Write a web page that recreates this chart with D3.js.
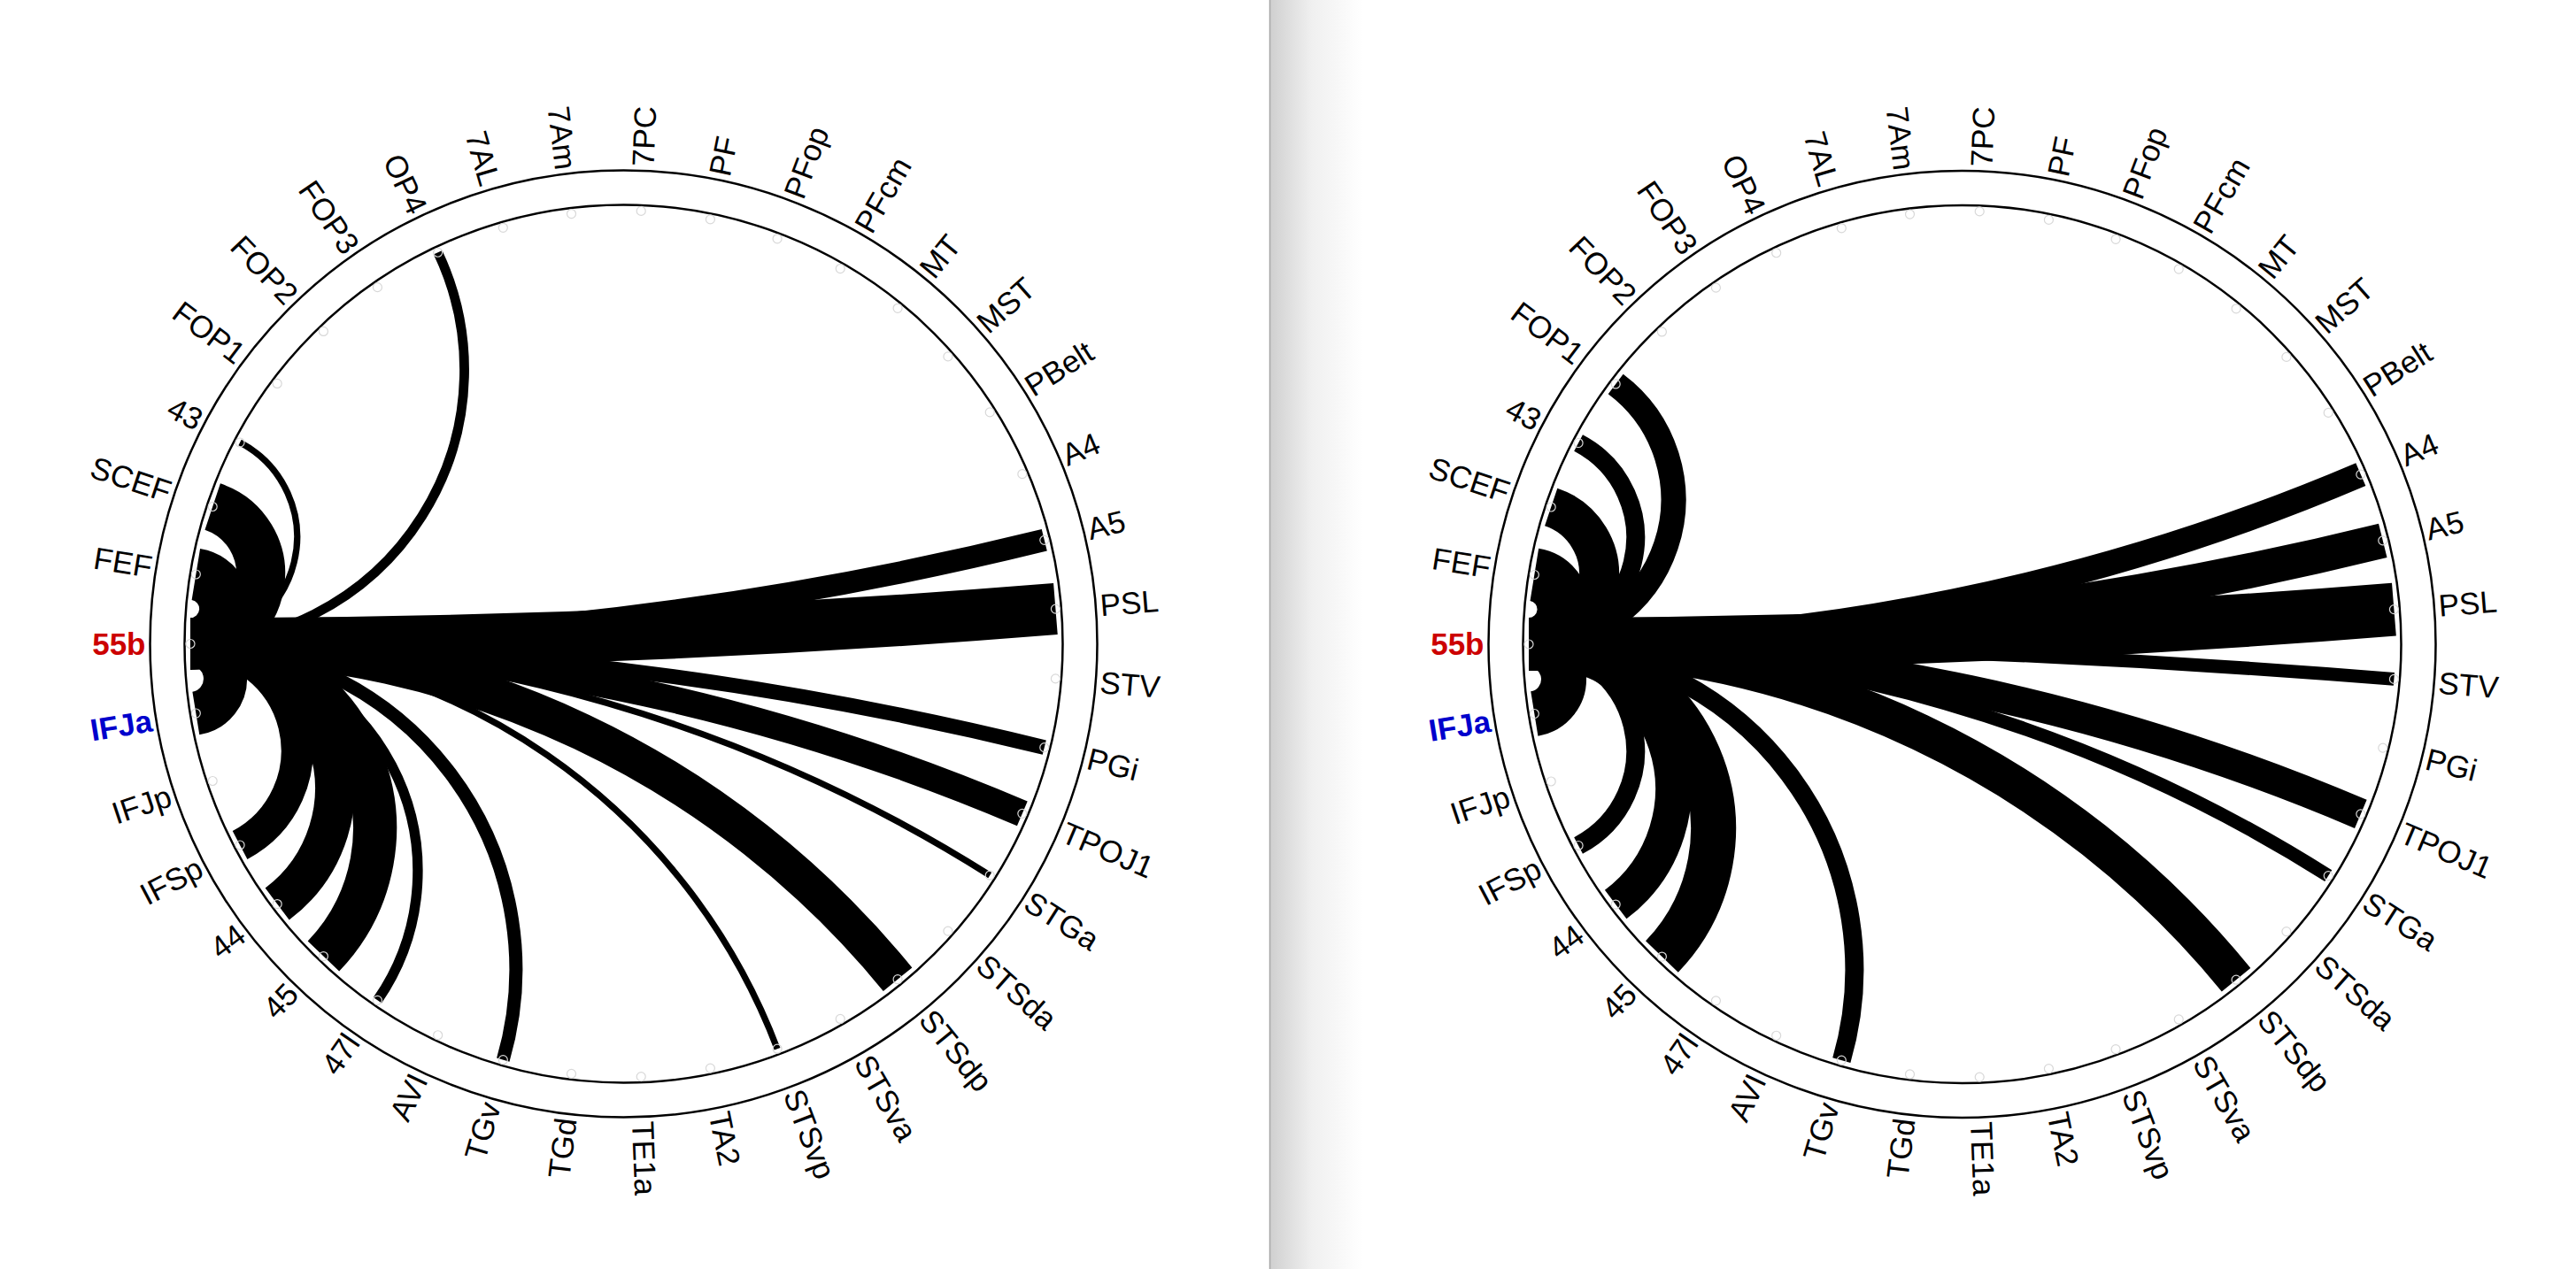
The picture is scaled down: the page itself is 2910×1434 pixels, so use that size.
<!DOCTYPE html>
<head>
	<meta charset="utf-8">
	<title>55b connections</title>
<style>
	body {
		margin:0;
		background-color: #ffffff;
		font-family: "Liberation Sans", Arial, Helvetica, sans-serif;
	}
	svg { display:block; }
	.ring {
		fill: none;
		stroke: #000000;
		stroke-width: 2.5px;
	}
	.link {
		fill: none;
		stroke: #000000;
		stroke-linecap: butt;
	}
	.node {
		fill: none;
		stroke: #d8d8d8;
		stroke-width: 1.2px;
	}
	.label {
		font-size: 35px;
		fill: #000000;
	}
</style>
</head>
<body>
<script src="https://d3js.org/d3.v7.min.js"></script>
<script>
	// regions round the circle, clockwise from 55b (left)
	var regions = ["55b","FEF","SCEF","43","FOP1","FOP2","FOP3","OP4","7AL","7Am","7PC","PF","PFop","PFcm",
		"MT","MST","PBelt","A4","A5","PSL","STV","PGi","TPOJ1","STGa","STSda","STSdp","STSva","STSvp",
		"TA2","TE1a","TGd","TGv","AVI","47l","45","44","IFSp","IFJp","IFJa"];
	var hub = "55b";

	// left panel: connections of 55b
	var leftTargets = ["FEF","SCEF","43","OP4","A5","PSL","PGi","TPOJ1","STGa","STSdp","STSvp","TGv","47l","45","44","IFSp","IFJa"];
	var leftWeights = [0.98, 0.92, 0.12, 0.18, 0.42, 0.97, 0.28, 0.5, 0.12, 0.7, 0.12, 0.25, 0.19, 0.82, 0.75, 0.6, 0.82];

	// right panel
	var rightTargets = ["FEF","SCEF","43","FOP1","A4","A5","PSL","STV","TPOJ1","STGa","STSdp","TGv","45","44","IFSp","IFJa"];
	var rightWeights = [1.0, 0.75, 0.35, 0.47, 0.47, 0.66, 1.0, 0.25, 0.58, 0.25, 0.7, 0.35, 0.85, 0.68, 0.35, 0.85];

	var width = 2910;
	var height = 1434;

	var rNode = 489.5;
	var rInner = 496;
	var rOuter = 535;
	var rLabel = 540;

	var svg = d3.select("body").append("svg")
		.attr("width", width)
		.attr("height", height);

	// shadow of the right window
	var grad = svg.append("defs").append("linearGradient")
		.attr("id", "shade")
		.attr("x1", "0%").attr("x2", "100%");
	grad.append("stop").attr("offset", "0%").attr("stop-color", "#d0d0d0");
	grad.append("stop").attr("offset", "45%").attr("stop-color", "#f0f0f0");
	grad.append("stop").attr("offset", "100%").attr("stop-color", "#ffffff");
	svg.append("rect")
		.attr("x", 1435).attr("y", 0)
		.attr("width", 105).attr("height", height)
		.attr("fill", "url(#shade)");
	svg.append("line")
		.attr("x1", 1434.5).attr("x2", 1434.5)
		.attr("y1", 0).attr("y2", height)
		.attr("stroke", "#a6a6a6")
		.attr("stroke-width", 1.5);

	var angle = d3.scaleBand().domain(regions).range([0, 2 * Math.PI]);
	var thick = d3.scaleLinear().domain([0, 1]).range([0, 60]);

	function theta(d) { return Math.PI - angle(d); }

	// arc orthogonal to the circle between two nodes
	function linkPath(a1, a2, R) {
		var x1 = R * Math.cos(a1), y1 = -R * Math.sin(a1);
		var x2 = R * Math.cos(a2), y2 = -R * Math.sin(a2);
		var d = Math.abs(a1 - a2) % (2 * Math.PI);
		if (d > Math.PI) d = 2 * Math.PI - d;
		var h = d / 2;
		if (Math.abs(h - Math.PI / 2) < 1e-3) return "M" + x1 + "," + y1 + "L" + x2 + "," + y2;
		var r = R * Math.tan(h);
		var cross = (x2 - x1) * (0 - y1) - (y2 - y1) * (0 - x1);
		var sweep = cross > 0 ? 0 : 1;
		return "M" + x1 + "," + y1 + "A" + r + "," + r + " 0 0," + sweep + " " + x2 + "," + y2;
	}

	function drawPanel(cx, cy, targets, weights) {
		var g = svg.append("g").attr("transform", "translate(" + cx + "," + cy + ")");

		g.append("circle").attr("class", "ring").attr("r", rOuter);
		g.append("circle").attr("class", "ring").attr("r", rInner);

		var links = targets.map(function(t, i) { return {target: t, w: weights[i]}; });
		links.sort(function(a, b) { return b.w - a.w; });

		g.selectAll(".link")
			.data(links)
			.enter().append("path")
			.attr("class", "link")
			.attr("stroke-width", function(d) { return thick(d.w); })
			.attr("d", function(d) { return linkPath(theta(hub), theta(d.target), rNode); });

		g.selectAll(".node")
			.data(regions)
			.enter().append("circle")
			.attr("class", "node")
			.attr("r", 5)
			.attr("cx", function(d) { return rNode * Math.cos(theta(d)); })
			.attr("cy", function(d) { return -rNode * Math.sin(theta(d)); });

		g.selectAll(".label")
			.data(regions)
			.enter().append("text")
			.attr("class", "label")
			.attr("dy", "0.35em")
			.attr("text-anchor", function(d) { return Math.cos(theta(d)) > 1e-6 ? "start" : "end"; })
			.attr("transform", function(d) {
				var a = theta(d);
				var deg = a * 180 / Math.PI;
				var rot = Math.cos(a) > 1e-6 ? -deg : 180 - deg;
				return "translate(" + (rLabel * Math.cos(a)) + "," + (-rLabel * Math.sin(a)) + ") rotate(" + rot + ")";
			})
			.style("font-weight", function(d) { return (d == "55b" || d == "IFJa") ? "bold" : "normal"; })
			.style("fill", function(d) { return d == "55b" ? "#cc0000" : (d == "IFJa" ? "#0000cc" : "#000000"); })
			.text(function(d) { return d; });
	}

	drawPanel(704.5, 727.5, leftTargets, leftWeights);
	drawPanel(2216.5, 728, rightTargets, rightWeights);
</script>
</body>
